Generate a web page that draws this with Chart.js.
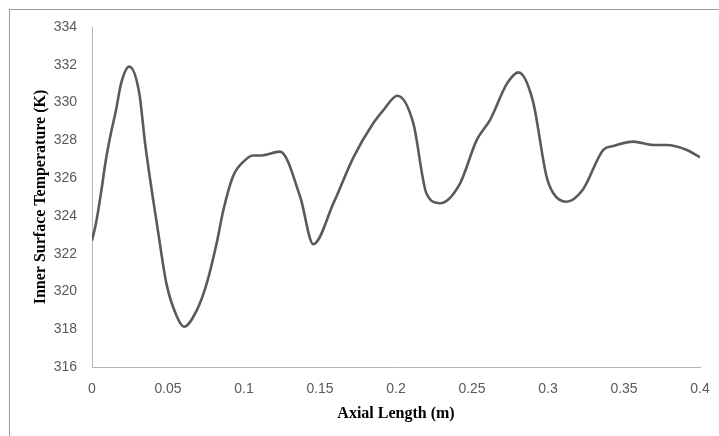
<!DOCTYPE html>
<html>
<head>
<meta charset="utf-8">
<script src="https://cdn.jsdelivr.net/npm/chart.js@4"></script>
<style>
  html, body { margin: 0; padding: 0; background: #fff; overflow: hidden; }
  .wrap { position: relative; width: 719px; height: 436px; }
  .frame { position: absolute; left: 9px; top: 9px; width: 760px; height: 480px; border: 1px solid #9a9a9a; }
  canvas { position: absolute; left: 0; top: 0; }
</style>
</head>
<body>
<div class="wrap">
  <div class="frame"></div>
  <canvas id="myChart" width="719" height="436"></canvas>
</div>
<script>
// axial position (m) and inner wall temperature (K)
const axialLength = [0, 0.0026, 0.0059, 0.0092, 0.0125, 0.0158, 0.0191, 0.0245, 0.0311, 0.035,
  0.0436, 0.049, 0.0557, 0.0605, 0.0689, 0.0754, 0.082, 0.0864, 0.0928, 0.1,
  0.106, 0.1116, 0.1237, 0.137, 0.1456, 0.159, 0.172, 0.185, 0.1917, 0.2009,
  0.2114, 0.22, 0.229, 0.242, 0.253, 0.262, 0.273, 0.2805, 0.29, 0.299,
  0.3035, 0.312, 0.323, 0.3364, 0.343, 0.356, 0.3693, 0.378, 0.391, 0.4];
const innerTemp = [322.7, 323.6, 325.2, 327.0, 328.4, 329.6, 331.0, 331.9, 330.5, 327.8,
  323.1, 320.4, 318.7, 318.13, 319.0, 320.4, 322.55, 324.3, 326.1, 326.9,
  327.2, 327.2, 327.4, 325.0, 322.5, 324.7, 327.1, 328.9, 329.6, 330.36,
  328.9, 325.2, 324.67, 325.7, 328.0, 329.1, 331.0, 331.6, 330.1, 326.1,
  325.2, 324.75, 325.4, 327.5, 327.7, 327.93, 327.75, 327.75, 327.5, 327.1];

const xTicks = [0, 0.05, 0.1, 0.15, 0.2, 0.25, 0.3, 0.35, 0.4];
const xTickLabels = ['0', '0.05', '0.1', '0.15', '0.2', '0.25', '0.3', '0.35', '0.4'];
const yTicks = [316, 318, 320, 322, 324, 326, 328, 330, 332, 334];
const yTickLabels = ['316', '318', '320', '322', '324', '326', '328', '330', '332', '334'];

const tickFont = {family: 'Liberation Sans', size: 14};
const titleFont = {family: 'Liberation Serif', size: 16, weight: 'bold'};

new Chart('myChart', {
  type: 'scatter',
  data: {
    datasets: [{
      data: axialLength.map((x, i) => ({x: x, y: innerTemp[i]})),
      showLine: true,
      borderColor: '#5a5a5a',
      borderWidth: 2.6,
      pointRadius: 0,
      cubicInterpolationMode: 'monotone'
    }]
  },
  options: {
    responsive: false,
    animation: false,
    layout: {padding: {left: 0, right: 19, top: 27, bottom: 0}},
    plugins: {legend: {display: false}, tooltip: {enabled: false}},
    scales: {
      x: {
        type: 'linear',
        min: 0, max: 0.4,
        afterBuildTicks: s => { s.ticks = xTicks.map(v => ({value: v})); },
        afterFit: s => { s.height = 69; s.paddingLeft = 0; s.paddingRight = 0; },
        grid: {display: false, drawTicks: false},
        border: {display: true, color: '#b5b5b5', width: 1},
        ticks: {
          color: '#595959', font: tickFont, padding: 14, maxRotation: 0, autoSkip: false,
          callback: (v, i) => xTickLabels[i]
        },
        title: {display: true, text: 'Axial Length (m)', color: '#000', font: titleFont, padding: {top: 0, bottom: 13}}
      },
      y: {
        min: 316, max: 334,
        afterBuildTicks: s => { s.ticks = yTicks.map(v => ({value: v})); },
        afterFit: s => { s.width = 92; s.paddingTop = 0; s.paddingBottom = 0; },
        grid: {display: false, drawTicks: false},
        border: {display: true, color: '#b5b5b5', width: 1},
        ticks: {
          color: '#595959', font: tickFont, padding: 15, autoSkip: false,
          callback: (v, i) => yTickLabels[i]
        },
        title: {display: true, text: 'Inner Surface Temperature (K)', color: '#000', font: titleFont, padding: {top: 31, bottom: 0}}
      }
    }
  }
});
</script>
</body>
</html>
